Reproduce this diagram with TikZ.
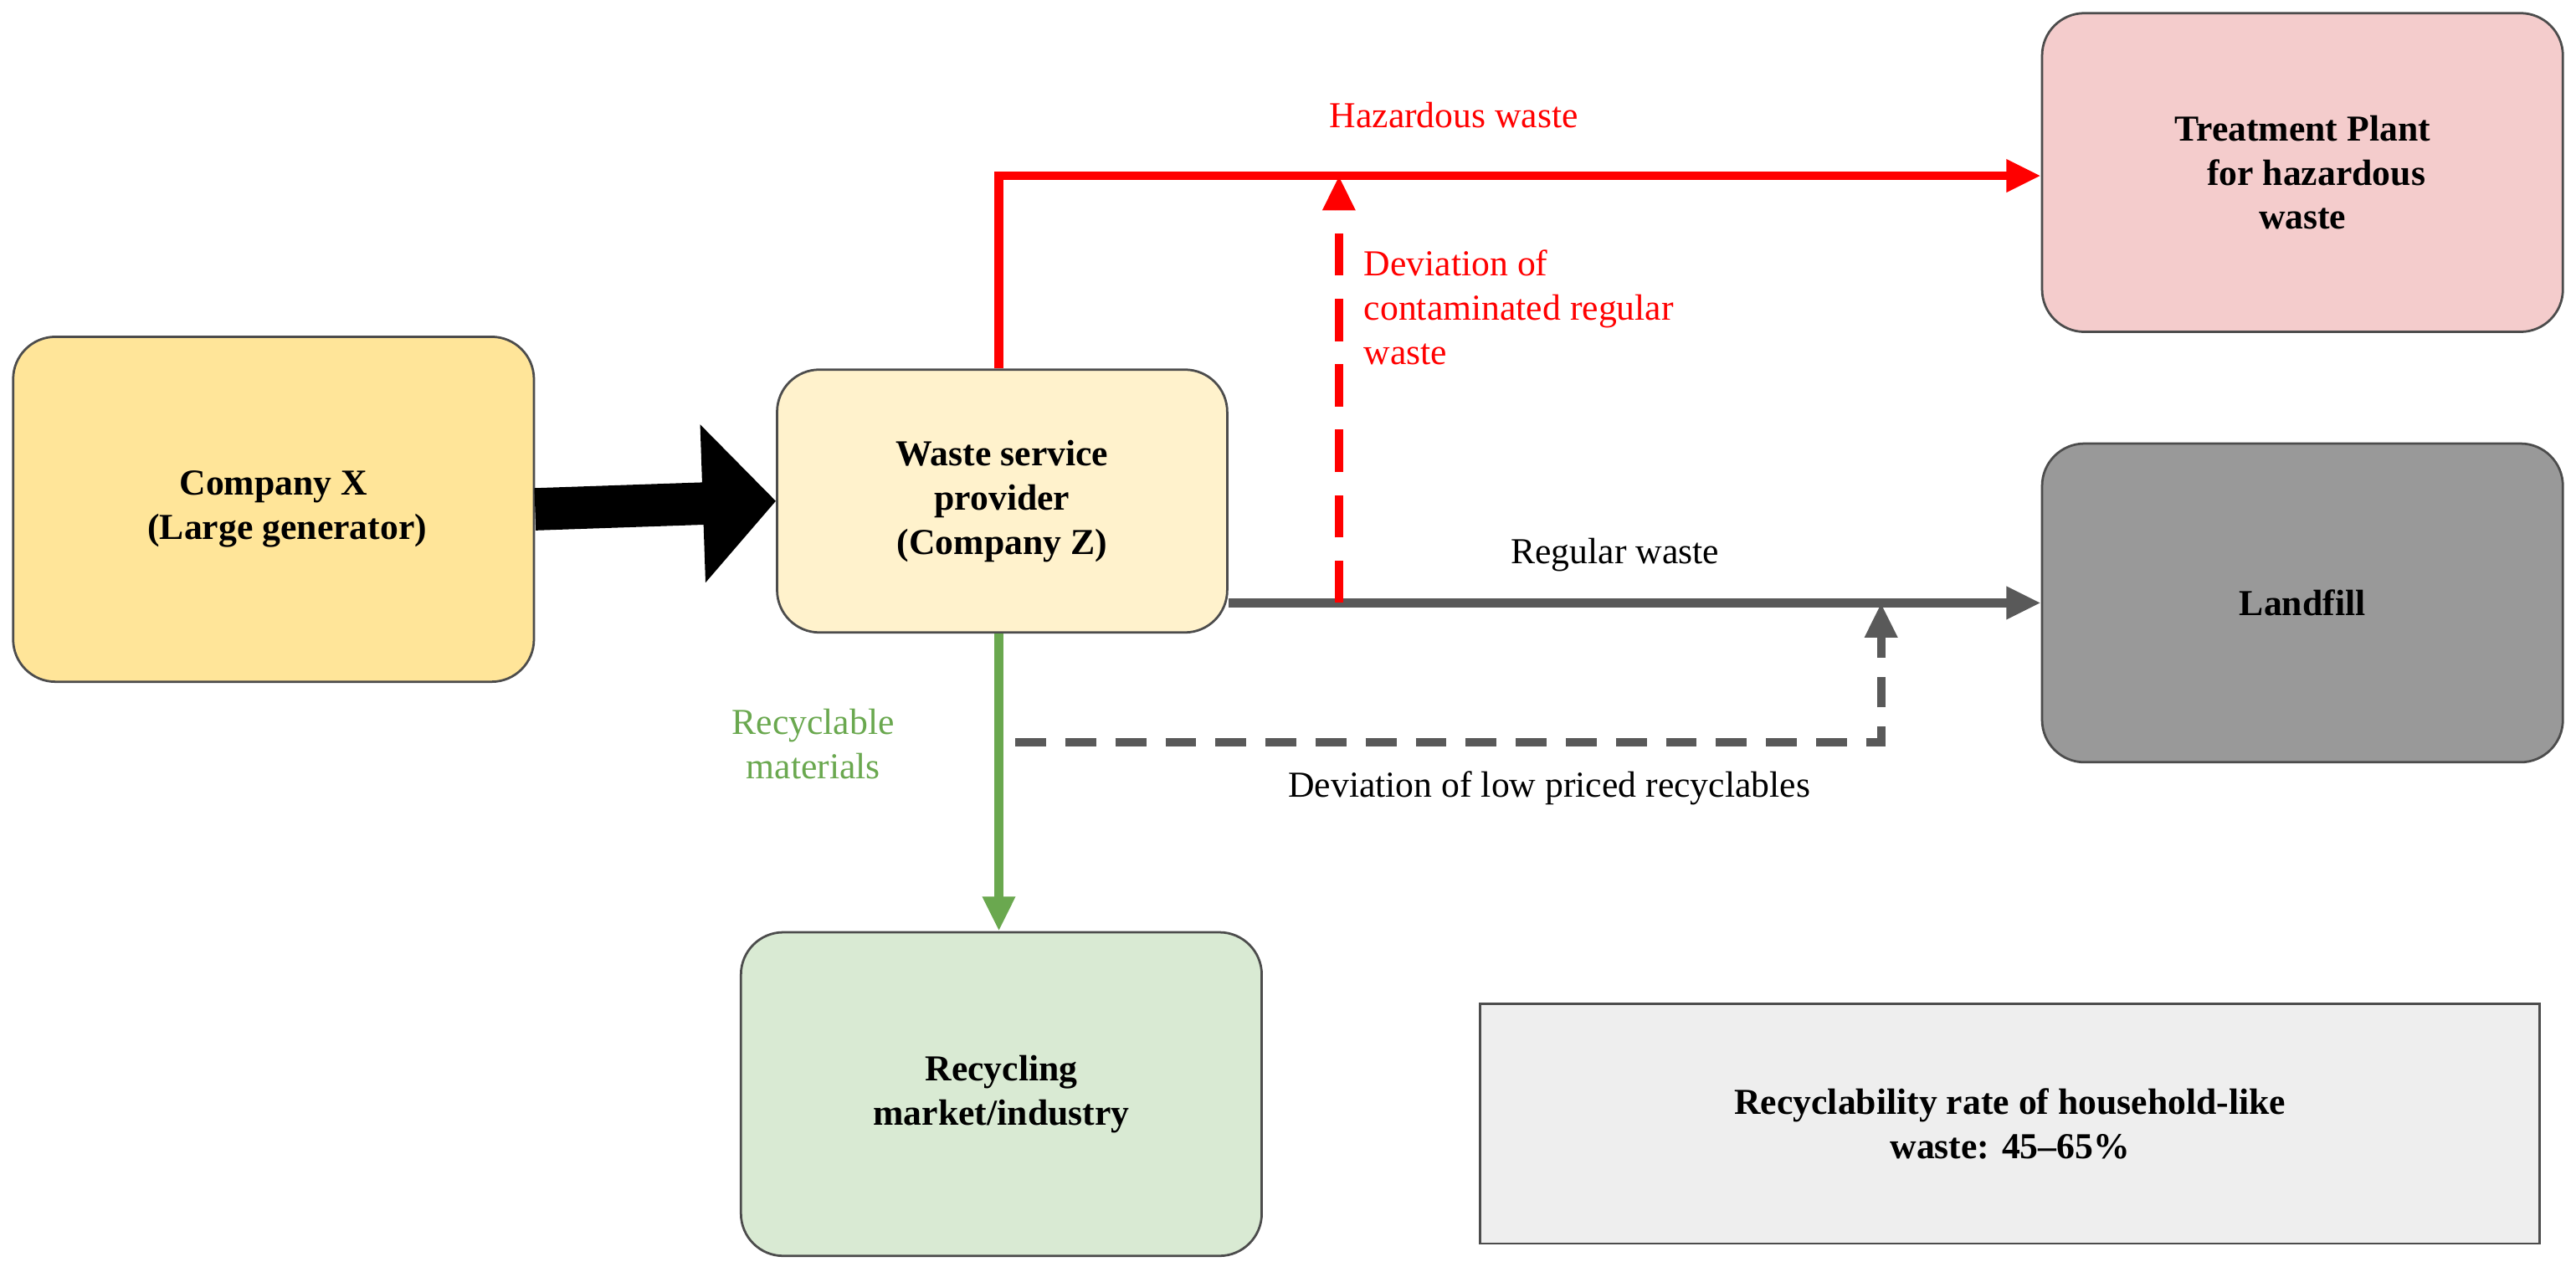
\documentclass[tikz,border=0pt]{standalone}
\usepackage{fontspec}
\setmainfont{Liberation Serif}
\usetikzlibrary{arrows.meta}
\definecolor{hazRed}{RGB}{255,0,0}
\definecolor{regGray}{RGB}{89,89,89}
\definecolor{recGreen}{RGB}{106,168,79}
\tikzset{
  box/.style={draw=black!70, line width=1.2pt, rounded corners=22pt, font=\bfseries\fontsize{19}{23}\selectfont, align=center, inner sep=0pt},
  lbl/.style={font=\fontsize{19}{23}\selectfont, align=left, inner sep=0pt},
  flow/.style={line width=4.5pt, -{Triangle[length=18pt,width=16pt]}}
}
\begin{document}
\begin{tikzpicture}[x=0.03cm, y=-0.03cm]
  \useasboundingbox (0,0) rectangle (1568,771);
  % boxes
  \node[box, fill={rgb,255:red,255;green,229;blue,153}, minimum width=317*0.03cm, minimum height=210*0.03cm] (compx) at (166.5,310) {Company X\\\ \ \ (Large generator)};
  \node[box, fill={rgb,255:red,255;green,242;blue,204}, minimum width=274*0.03cm, minimum height=160*0.03cm] (wsp) at (610,305) {Waste service\\provider\\(Company Z)};
  \node[box, fill={rgb,255:red,244;green,204;blue,204}, minimum width=317*0.03cm, minimum height=194*0.03cm] (treat) at (1401.5,105) {Treatment Plant\\\ \ \ for hazardous\\waste};
  \node[box, fill={rgb,255:red,153;green,153;blue,153}, minimum width=317*0.03cm, minimum height=194*0.03cm] (landfill) at (1401.5,367) {Landfill};
  \node[box, fill={rgb,255:red,217;green,234;blue,211}, minimum width=317*0.03cm, minimum height=197*0.03cm] (recyc) at (609.5,666) {Recycling\\market/industry};
  \node[box, rounded corners=0pt, fill={rgb,255:red,238;green,238;blue,238}, minimum width=645*0.03cm, minimum height=146*0.03cm] (rate) at (1223.5,684) {Recyclability rate of household-like\\waste: 45--65\%};
  % helper points
  \coordinate (hazcorner) at (608,107);
  \coordinate (devtop) at (815,107);
  \coordinate (devbot) at (815,367);
  \coordinate (lowstart) at (618,452);
  \coordinate (lowcorner) at (1145,452);
  \coordinate (lowend) at (1145,367);
  % flows
  \draw[line width=22pt, -{Triangle[length=38pt,width=80pt]}] (compx.east) -- (wsp.west);
  \draw[flow, hazRed] (wsp.north -| hazcorner) -- (hazcorner) -- (treat.west |- hazcorner);
  \draw[flow, regGray] (wsp.east |- devbot) -- (landfill.west |- devbot);
  \draw[flow, hazRed, dash pattern=on 22pt off 12pt] (devbot) -- (devtop);
  \draw[flow, regGray, dash pattern=on 16pt off 10pt] (lowstart) -- (lowcorner) -- (lowend);
  \draw[flow, recGreen] (wsp.south -| hazcorner) -- (recyc.north -| hazcorner);
  % labels
  \node[lbl, text=hazRed] (hazlbl) at (885,70) {Hazardous waste};
  \node[lbl, text=hazRed, anchor=north west] (devlbl) at (830,152) {Deviation of\\contaminated regular\\waste};
  \node[lbl, text=black] (reglbl) at (983,338) {Regular waste};
  \node[lbl, text=recGreen, align=center] (reclbl) at (495,453) {Recyclable\\materials};
  \node[lbl, text=black] (lowlbl) at (943,480) {Deviation of low priced recyclables};
\end{tikzpicture}
\end{document}
